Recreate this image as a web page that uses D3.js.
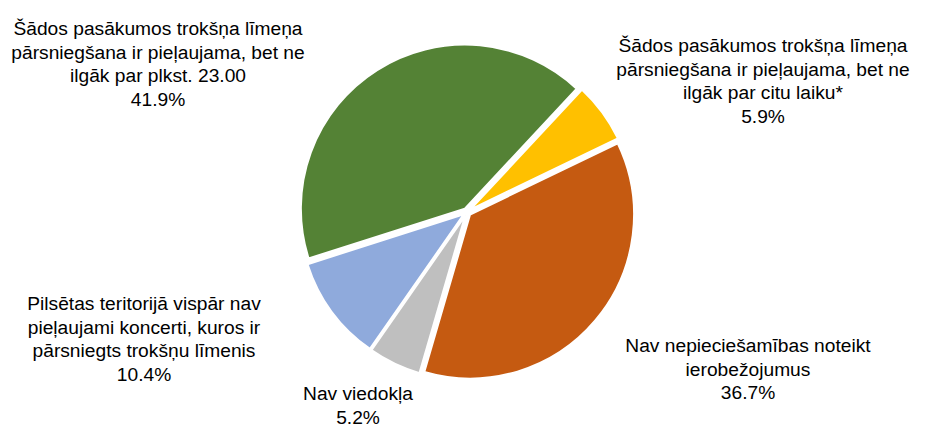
<!DOCTYPE html>
<html>
<head>
<meta charset="utf-8">
<script src="https://cdn.jsdelivr.net/npm/d3@7"></script>
<style>
  body { margin: 0; background: #fff; }
  text { font-family: "Liberation Sans", Arial, sans-serif; font-size: 19.2px; fill: #000; }
</style>
</head>
<body>
<svg id="chart" width="928" height="427"></svg>
<script>
// slices in drawing order, clockwise from the yellow one
var categories = [
  ["Šādos pasākumos trokšņa līmeņa", "pārsniegšana ir pieļaujama, bet ne", "ilgāk par citu laiku*"],
  ["Nav nepieciešamības noteikt", "ierobežojumus"],
  ["Nav viedokļa"],
  ["Pilsētas teritorijā vispār nav", "pieļaujami koncerti, kuros ir", "pārsniegts trokšņu līmenis"],
  ["Šādos pasākumos trokšņa līmeņa", "pārsniegšana ir pieļaujama, bet ne", "ilgāk par plkst. 23.00"]
];
var values = [5.9, 36.7, 5.2, 10.4, 41.9];
var colors = ["#FFC000", "#C55A11", "#BFBFBF", "#8FAADC", "#548235"];
// label anchor (center x, first baseline y)
var labelPos = [[763, 52], [748, 352], [358, 400], [144, 310], [158, 35]];

var svg = d3.select("#chart");
var cx = 467, cy = 212, radius = 164, explode = 4;
var start = 43 * Math.PI / 180;

var pie = d3.pie().sort(null).value(function(d){ return d; })
  .startAngle(start).endAngle(start + 2 * Math.PI);
var arc = d3.arc().innerRadius(0).outerRadius(radius);

var arcs = pie(values);

svg.append("g").attr("transform", "translate(" + cx + "," + cy + ")")
  .selectAll("path").data(arcs).enter().append("path")
  .attr("d", arc)
  .attr("fill", function(d, i){ return colors[i]; })
  .attr("stroke", "#fff")
  .attr("stroke-width", 2)
  .attr("transform", function(d){
    var a = (d.startAngle + d.endAngle) / 2;
    return "translate(" + (Math.sin(a) * explode) + "," + (-Math.cos(a) * explode) + ")";
  });

var lineH = 23.5;
arcs.forEach(function(d, i){
  var lines = categories[i].concat([d3.format(".1f")(values[i]) + "%"]);
  var t = svg.append("text")
    .attr("text-anchor", "middle")
    .attr("x", labelPos[i][0])
    .attr("y", labelPos[i][1]);
  lines.forEach(function(l, j){
    t.append("tspan").attr("x", labelPos[i][0]).attr("y", labelPos[i][1] + j * lineH).text(l);
  });
});
</script>
</body>
</html>
